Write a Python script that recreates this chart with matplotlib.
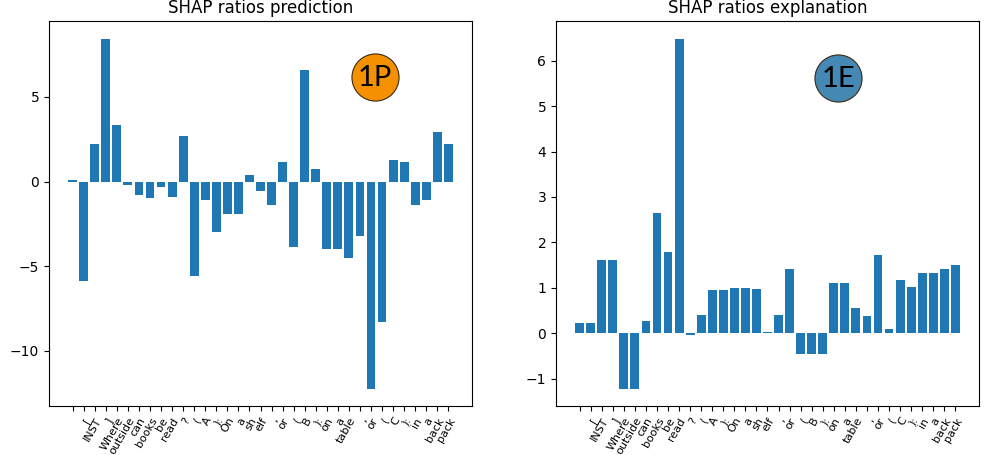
import matplotlib
matplotlib.use("Agg")
import matplotlib.pyplot as plt
import numpy as np

tokens = ["", "[", "INST", "]", "Where", "outside", "can", "books", "be", "read", "?",
          "(", "A", "):", "On", "a", "sh", "elf", ",", "or", "(", "B", "):", "on", "a",
          "table", ",", "or", "(", "C", "):", "in", "a", "back", "pack"]

pred_ratios = [0.06, -5.85, 2.19, 8.45, 3.31, -0.18, -0.77, -1.0, -0.30, -0.94, 2.66,
               -5.61, -1.12, -3.01, -1.89, -1.89, 0.41, -0.59, -1.36, 1.18, -3.84,
               6.56, 0.71, -3.96, -3.96, -4.49, -3.19, -12.23, -8.33, 1.30, 1.18,
               -1.36, -1.12, 2.95, 2.24]

expl_ratios = [0.23, 0.23, 1.62, 1.62, -1.22, -1.22, 0.27, 2.65, 1.79, 6.49, -0.04,
               0.40, 0.96, 0.96, 1.00, 1.00, 0.98, 0.03, 0.40, 1.42, -0.45, -0.45,
               -0.45, 1.11, 1.11, 0.56, 0.38, 1.71, 0.10, 1.18, 1.02, 1.33, 1.33,
               1.42, 1.51]

titles = ["SHAP ratios prediction", "SHAP ratios explanation"]
badges = ["1P", "1E"]
badge_colors = ["#F59100", "#4588B4"]

fig = plt.figure(figsize=(9.89, 4.55), dpi=100)
ax1 = fig.add_axes([49/989, 49/455, 423/989, 385/455])
ax2 = fig.add_axes([556/989, 49/455, 423/989, 385/455])

badge_pos = [(0.771, 0.855), (0.667, 0.852)]

for ax, vals, title, badge, bc, pos in zip([ax1, ax2], [pred_ratios, expl_ratios],
                                            titles, badges, badge_colors, badge_pos):
    x = np.arange(len(tokens))
    ax.bar(x, vals, color="#1f77b4")
    ax.set_xticks(x)
    ax.set_xticklabels(tokens, rotation=60, ha="right", rotation_mode="anchor", fontsize=8)
    ax.set_title(title)
    ax.scatter([pos[0]], [pos[1]], s=1150, color=bc, edgecolors="#3a2a10",
               linewidths=0.8, transform=ax.transAxes, zorder=5, clip_on=False)
    ax.text(pos[0], pos[1] - 0.003, badge, transform=ax.transAxes, ha="center", va="center",
            fontsize=21, family=["Lato", "DejaVu Sans"], color="black", zorder=6)

fig.savefig("out.png", dpi=100)
